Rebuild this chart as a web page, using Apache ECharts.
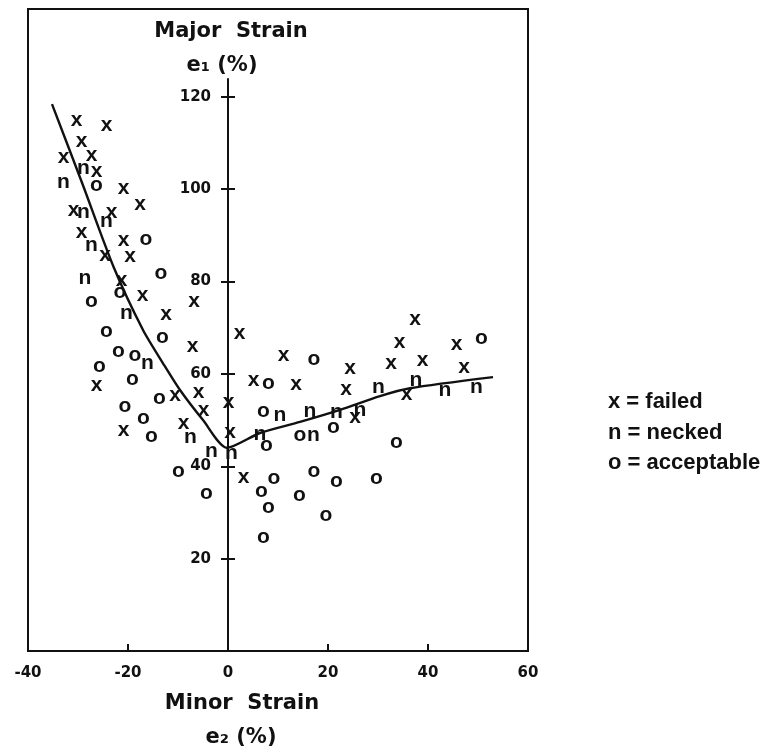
<!DOCTYPE html>
<html>
<head>
<meta charset="utf-8">
<script src="https://cdn.jsdelivr.net/npm/echarts@6/dist/echarts.min.js"></script>
<style>html,body{margin:0;padding:0;background:#fff}#c{width:764px;height:752px}</style>
</head>
<body>
<div id="c"></div>
<script>
// ---- data (minor strain e2 %, major strain e1 %) ----
const failed = [
  [-30.3,114.4],[-24.3,113.4],[-29.3,109.9],[-27.3,107.0],[-32.9,106.4],[-26.3,103.4],
  [-20.9,99.8],[-17.6,96.3],[-30.9,94.9],[-23.3,94.6],[-29.3,90.3],[-20.9,88.5],
  [-19.6,85.0],[-24.6,85.3],[-21.3,79.9],[-17.1,76.7],[-6.8,75.3],[-12.4,72.5],
  [-7.1,65.5],[-26.3,57.1],[-5.9,55.6],[-10.6,55.0],[-4.9,51.6],[-8.9,48.9],
  [-20.9,47.3],[2.3,68.4],[11.1,63.6],[24.4,60.7],[5.1,58.3],[13.6,57.4],
  [23.6,56.3],[0.1,53.5],[25.4,50.2],[0.4,47.0],[3.1,37.2],[37.4,71.3],
  [34.3,66.4],[45.7,65.9],[32.6,61.9],[38.9,62.6],[47.2,61.0],[35.7,55.2]
];
const necked = [
  [-28.9,104.1],[-32.9,101.1],[-28.9,94.6],[-24.3,92.7],[-27.3,87.4],[-28.6,80.2],
  [-20.3,72.7],[-16.1,61.9],[-7.5,45.8],[-3.3,42.8],[0.7,42.4],[10.4,50.7],
  [16.4,51.5],[21.7,51.3],[26.4,51.8],[6.4,46.5],[17.1,46.2],[30.1,56.6],
  [37.6,58.3],[43.4,56.1],[49.7,56.6]
];
const acceptable = [
  [-26.3,100.4],[-16.4,88.8],[-13.4,81.4],[-21.6,77.3],[-27.3,75.4],[-24.3,68.9],
  [-13.1,67.5],[-21.9,64.4],[-18.6,63.6],[-25.7,61.2],[-19.1,58.5],[-13.7,54.3],
  [-20.6,52.5],[-16.9,50.0],[-15.3,46.0],[-9.9,38.5],[-4.3,33.8],[17.2,62.8],
  [8.1,57.6],[7.1,51.5],[21.1,48.0],[14.4,46.2],[7.7,44.2],[9.2,37.0],
  [17.2,38.5],[21.7,36.4],[6.7,34.1],[14.3,33.3],[8.1,30.7],[19.6,28.9],
  [7.1,24.2],[50.7,67.2],[33.7,44.8],[29.7,37.0]
];
// forming limit curve
const limitCurve = [
  [-35.2,118.4],[-29.1,101.1],[-22.9,83.2],[-17.0,69.5],[-13.0,62.3],[-9.6,56.5],
  [-5.0,50.0],[-0.2,44.0],[6.4,47.2],[14.4,49.6],[22.4,52.2],[30.4,55.2],
  [36.4,56.9],[53.0,59.3]
];
// axes
const xMin = -40, xMax = 60, xStep = 20;
const yMin = 0, yMax = 139, yStep = 20;
const yAxisRuleTop = 124;
const yAxisRule = [[0, yMin], [0, yAxisRuleTop]];
// labels
const seriesNames = ['x = failed', 'n = necked', 'o = acceptable'];
const markerChars = ['x', 'n', 'o'];
const titleTop = 'Major  Strain', titleTopSub = 'e\u2081 (%)';
const titleBottom = 'Minor  Strain', titleBottomSub = 'e\u2082 (%)';

const INK = '#111';
const axisFont = '"DejaVu Sans", sans-serif';
const markFont = '"Liberation Sans", Arial, sans-serif';
const GRID_LEFT = 28, GRID_W = 500;
// shift the vertical axis from the grid's left edge to x = 0
const yAxisShift = -GRID_W * (0 - xMin) / (xMax - xMin);

function markerSeries(name, ch, data) {
  return {
    type: 'scatter', name: name, data: data,
    symbol: 'circle', symbolSize: 1,
    itemStyle: { color: 'rgba(0,0,0,0)', opacity: 1 },
    label: {
      show: true, position: 'inside', formatter: ch, opacity: 1,
      color: INK, fontSize: 21, fontWeight: 'bold', fontFamily: markFont,
      textBorderWidth: 0, offset: [0, -2]
    },
    emphasis: { disabled: true }, silent: true, z: 3
  };
}

const chart = echarts.init(document.getElementById('c'), null, { renderer: 'canvas' });
chart.setOption({
  backgroundColor: '#fff',
  animation: false,
  grid: {
    left: GRID_LEFT, width: GRID_W, top: 9, bottom: 101,
    containLabel: false, outerBoundsMode: 'none',
    show: true, borderColor: INK, borderWidth: 2, backgroundColor: 'transparent'
  },
  xAxis: {
    type: 'value', min: xMin, max: xMax, interval: xStep,
    axisLine: { show: false },
    axisTick: { show: true, inside: true, length: 7, lineStyle: { color: INK, width: 2 } },
    splitLine: { show: false },
    axisLabel: { margin: 15, color: INK, fontSize: 15, fontWeight: 'bold', fontFamily: axisFont }
  },
  yAxis: [
    {
      type: 'value', min: yMin, max: yMax, interval: yStep, position: 'left', offset: yAxisShift,
      axisLine: { show: false, onZero: false },
      axisTick: { show: true, inside: false, length: 7, lineStyle: { color: INK, width: 2 } },
      splitLine: { show: false },
      axisLabel: { margin: 17, showMinLabel: false, showMaxLabel: false, color: INK, fontSize: 15, fontWeight: 'bold', fontFamily: axisFont }
    },
    {
      type: 'value', min: yMin, max: yMax, interval: yStep, position: 'left', offset: yAxisShift,
      axisLine: { show: false, onZero: false },
      axisTick: { show: true, inside: true, length: 7, lineStyle: { color: INK, width: 2 } },
      splitLine: { show: false },
      axisLabel: { show: false }
    }
  ],
  legend: {
    data: seriesNames, orient: 'vertical', left: 603, top: 391,
    itemWidth: 0, itemHeight: 0, itemGap: 8.5, padding: 0,
    selectedMode: false,
    textStyle: { color: INK, fontSize: 22, fontWeight: 'bold', fontFamily: markFont }
  },
  graphic: [
    { type: 'text', x: 231, y: 32, style: { text: titleTop, align: 'center', verticalAlign: 'middle', fill: INK, font: 'bold 21px "DejaVu Sans", sans-serif' } },
    { type: 'text', x: 222, y: 66, style: { text: titleTopSub, align: 'center', verticalAlign: 'middle', fill: INK, font: 'bold 21px "DejaVu Sans", sans-serif' } },
    { type: 'text', x: 242, y: 704, style: { text: titleBottom, align: 'center', verticalAlign: 'middle', fill: INK, font: 'bold 21px "DejaVu Sans", sans-serif' } },
    { type: 'text', x: 241, y: 738, style: { text: titleBottomSub, align: 'center', verticalAlign: 'middle', fill: INK, font: 'bold 21px "DejaVu Sans", sans-serif' } }
  ],
  series: [
    {
      type: 'line', name: 'axis', data: yAxisRule, showSymbol: false, silent: true,
      lineStyle: { color: INK, width: 2 }, z: 1
    },
    {
      type: 'line', name: 'limit', data: limitCurve, smooth: 0.25, showSymbol: false, silent: true,
      lineStyle: { color: INK, width: 2.4 }, z: 2
    },
    markerSeries(seriesNames[0], markerChars[0], failed),
    markerSeries(seriesNames[1], markerChars[1], necked),
    markerSeries(seriesNames[2], markerChars[2], acceptable)
  ]
});
</script>
</body>
</html>
